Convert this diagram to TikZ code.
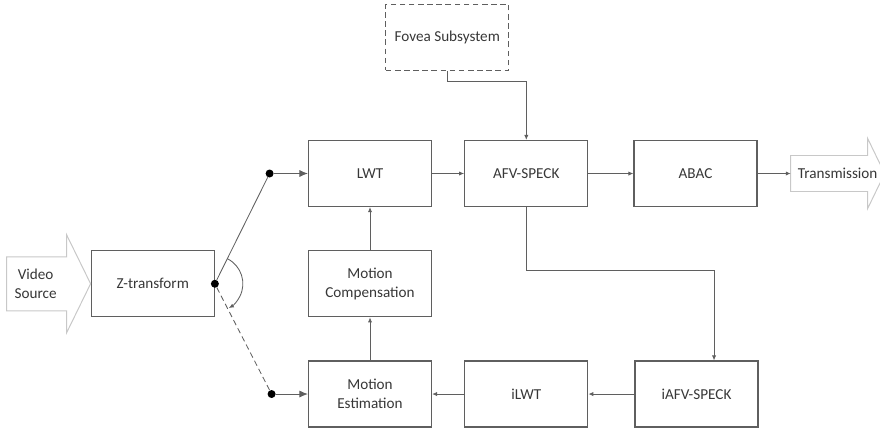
\documentclass[tikz,border=0pt]{standalone}
\usepackage{fontspec}
\setmainfont{Carlito}
\usepackage{tikz}
\usetikzlibrary{arrows.meta,positioning}
\definecolor{linegray}{RGB}{95,95,95}
\definecolor{textgray}{RGB}{55,55,55}
\definecolor{pipegray}{RGB}{200,200,200}
\newcommand{\boxfont}{\fontsize{10.8}{13.5}\selectfont}

\begin{document}
\begin{tikzpicture}[
    node distance=1.075cm and 0.8cm,
    box/.style={rectangle, draw=linegray, line width=0.9pt, minimum width=3.075cm, minimum height=1.65cm, align=center, font=\boxfont, text=textgray},
    arrow/.style={-{Latex[length=3.5pt,width=3pt]}, draw=linegray, line width=0.6pt},
    dotarrow/.style={-{Latex[length=6pt,width=5pt]}, draw=linegray, line width=0.6pt},
    dot/.style={circle, fill=black, inner sep=0pt, minimum size=0.2cm},
    pipe/.style={draw=pipegray, line width=0.7pt, fill=white},
    label/.style={font=\boxfont, text=textgray, align=center}
]
\useasboundingbox (0,0) rectangle (22,10.725);

% Top row
\node[box] (lwt) at (9.25,6.3875) {LWT};
\node[box, right=0.8cm of lwt] (afv) {AFV-SPECK};
\node[box, right=1.125cm of afv] (abac) {ABAC};
\node[box, dash pattern=on 4pt off 2.5pt, above=1.725cm of afv, xshift=-1.975cm] (fovea) {Fovea Subsystem};

% Feedback loop
\node[box, below=of lwt] (mc) {Motion\\Compensation};
\node[box, below=of mc] (me) {Motion\\Estimation};
\node[box, right=0.8cm of me] (ilwt) {iLWT};
\node[box, right=1.15cm of ilwt] (iafv) {iAFV-SPECK};

% Input side
\node[box, left=2.325cm of mc] (ztr) {Z-transform};
\node[dot] (zdot) at (ztr.east) {};
\node[dot, left=0.85cm of lwt] (updot) {};
\node[dot, left=0.8cm of me] (lowdot) {};

% Big arrows
\draw[pipe] (ztr.west) -- ++(-0.6,1.225) -- ++(0,-0.55) -- ++(-1.5,0) -- ++(0,-1.35)
    -- ++(1.5,0) -- ++(0,-0.55) -- cycle;
\node[label] (vsrc) at ([xshift=-1.375cm]ztr.west) {Video\\Source};
\coordinate (tx) at ([xshift=0.825cm]abac.east);
\draw[pipe] (tx) -- ++(0,0.45) -- ++(1.925,0) -- ++(0,0.425) -- ++(0.425,-0.875)
    -- ++(-0.425,-0.875) -- ++(0,0.425) -- ++(-1.925,0) -- cycle;
\node[label] (trans) at ([xshift=1.175cm]tx) {Transmission};

% Switch
\draw[linegray, line width=0.6pt] (zdot) -- (updot);
\draw[linegray, line width=0.6pt, dash pattern=on 4pt off 2.5pt] (zdot) -- (lowdot);
\draw[arrow] ([shift={(63:0.7)}]zdot.center) arc[start angle=63, end angle=-60, radius=0.7];
\draw[dotarrow] (updot) -- (lwt);
\draw[dotarrow] (lowdot) -- (me);

% Connectors
\draw[arrow] (lwt) -- (afv);
\draw[arrow] (afv) -- (abac);
\draw[arrow] (abac) -- (tx);
\draw[arrow] (fovea.south) -- ++(0,-0.275) -| (afv.north);
\draw[arrow] (afv.south) -- ++(0,-1.575) -| ([xshift=0.4375cm]iafv.north);
\draw[arrow] (iafv) -- (ilwt);
\draw[arrow] (ilwt) -- (me);
\draw[arrow] (me) -- (mc);
\draw[arrow] (mc) -- (lwt);

\end{tikzpicture}
\end{document}
